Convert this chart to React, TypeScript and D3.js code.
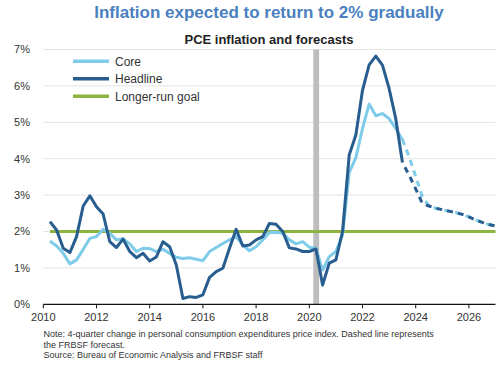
import React from "react";
import * as d3 from "d3";

// Quarterly 4-quarter % change, first point = 2010Q1
const headline = [
  2.27, 2.04, 1.54, 1.42, 1.86, 2.7, 2.98, 2.68, 2.48, 1.72, 1.56, 1.79, 1.45, 1.28, 1.4, 1.19,
  1.3, 1.72, 1.58, 1.08, 0.16, 0.21, 0.19, 0.26, 0.74, 0.9, 0.99, 1.54, 2.06, 1.6, 1.63, 1.77,
  1.86, 2.22, 2.2, 2.0, 1.55, 1.52, 1.45, 1.45, 1.52, 0.53, 1.13, 1.22, 2.0, 4.1, 4.65, 5.88,
  6.58, 6.82, 6.57, 5.93, 5.1, 3.9,
];
const core = [
  1.74, 1.6, 1.4, 1.11, 1.22, 1.51, 1.81, 1.86, 2.06, 1.95, 1.77, 1.8, 1.66, 1.45, 1.54, 1.53,
  1.45, 1.51, 1.4, 1.29, 1.26, 1.28, 1.24, 1.2, 1.45, 1.56, 1.67, 1.77, 1.86, 1.63, 1.47, 1.58,
  1.77, 1.97, 1.98, 1.95, 1.77, 1.66, 1.72, 1.57, 1.54, 0.94, 1.31, 1.45, 1.9, 3.62, 4.03, 4.83,
  5.5, 5.18, 5.24, 5.1, 4.83, 4.53,
];
// Forecast, starting at last actual quarter (2023Q2)
const headlineForecast = [3.9, 3.55, 3.17, 2.77, 2.7, 2.64, 2.6, 2.56, 2.52, 2.47, 2.4, 2.32, 2.25, 2.19, 2.15];
const coreForecast = [4.53, 4.06, 3.51, 2.96, 2.7, 2.64, 2.6, 2.56, 2.52, 2.47, 2.4, 2.32, 2.25, 2.19, 2.15];
const startYear = 2010;
const goal = 2;
const recession = [2020.15, 2020.37];
const yTicks = [0, 1, 2, 3, 4, 5, 6, 7];
const xTicks = [2010, 2012, 2014, 2016, 2018, 2020, 2022, 2024, 2026];

const W = 500;
const H = 365;
const C_CORE = "#7fcbea";
const C_HEAD = "#285d8f";
const C_GOAL = "#8db43e";

export default function App() {
  const x = d3.scaleLinear().domain([2010, 2027]).range([43.3, 495.5]);
  const y = d3.scaleLinear().domain([0, 7]).range([304.3, 49.5]);
  const t = (i: number) => startYear + (i + 1) * 0.25;
  const line = d3
    .line<[number, number]>()
    .x((d) => x(d[0]))
    .y((d) => y(d[1]));
  const act = (arr: number[]) => arr.map((v, i) => [t(i), v] as [number, number]);
  const fc = (arr: number[], off: number) => arr.map((v, i) => [t(i + off), v] as [number, number]);
  const off = headline.length - 1;
  const lastT = t(off + headlineForecast.length - 1);

  return (
    <svg width={W} height={H} style={{ position: "absolute", left: 0, top: 0, fontFamily: "'Liberation Sans', Arial, sans-serif" }}>
      <rect width={W} height={H} fill="#fff" />
      <text x={269} y={18} textAnchor="middle" fontSize={17} fontWeight="bold" fill="#4a7fc0">
        Inflation expected to return to 2% gradually
      </text>
      <text x={269} y={43.5} textAnchor="middle" fontSize={13} fontWeight="bold" fill="#222">
        PCE inflation and forecasts
      </text>
      {yTicks.map((v) => (
        <g key={v}>
          {v > 0 && <line x1={43.3} x2={495.5} y1={y(v)} y2={y(v)} stroke="#e3e3e3" strokeWidth={1} />}
          <text x={30} y={y(v)} dy="0.35em" textAnchor="end" fontSize={11} fill="#333">
            {v}%
          </text>
        </g>
      ))}
      <rect x={x(recession[0])} width={x(recession[1]) - x(recession[0])} y={y(7)} height={y(0) - y(7)} fill="#bdbdbd" />
      <line x1={x(t(0))} x2={x(lastT)} y1={y(goal)} y2={y(goal)} stroke={C_GOAL} strokeWidth={3} />
      <path d={line(act(core)) || ""} fill="none" stroke={C_CORE} strokeWidth={3} strokeLinejoin="round" />
      <path d={line(act(headline)) || ""} fill="none" stroke={C_HEAD} strokeWidth={3} strokeLinejoin="round" />
      <path d={line(fc(coreForecast, off)) || ""} fill="none" stroke={C_CORE} strokeWidth={3} strokeDasharray="6,5" />
      <path d={line(fc(headlineForecast, off)) || ""} fill="none" stroke={C_HEAD} strokeWidth={3} strokeDasharray="6,5" strokeDashoffset={5.5} />
      <line x1={43.3} x2={495.5} y1={y(0)} y2={y(0)} stroke="#111" strokeWidth={1.2} />
      {xTicks.map((v) => (
        <g key={v}>
          <line x1={x(v)} x2={x(v)} y1={y(0)} y2={y(0) + 4} stroke="#111" strokeWidth={1} />
          <text x={x(v)} y={321} textAnchor="middle" fontSize={11} fill="#333">
            {v}
          </text>
        </g>
      ))}
      {/* legend */}
      <line x1={73} x2={109} y1={61.3} y2={61.3} stroke={C_CORE} strokeWidth={3.5} />
      <line x1={73} x2={109} y1={78.8} y2={78.8} stroke={C_HEAD} strokeWidth={3.5} />
      <line x1={73} x2={109} y1={96.3} y2={96.3} stroke={C_GOAL} strokeWidth={3.5} />
      <text x={115} y={61.3} dy="0.35em" fontSize={12} fill="#333">Core</text>
      <text x={115} y={78.8} dy="0.35em" fontSize={12} fill="#333">Headline</text>
      <text x={115} y={96.3} dy="0.35em" fontSize={12} fill="#333">Longer-run goal</text>
      <g fontSize={9} fill="#333">
        <text x={43.5} y={337}>Note: 4-quarter change in personal consumption expenditures price index. Dashed line represents</text>
        <text x={43.5} y={347.5}>the FRBSF forecast.</text>
        <text x={43.5} y={358}>Source: Bureau of Economic Analysis and FRBSF staff</text>
      </g>
    </svg>
  );
}
